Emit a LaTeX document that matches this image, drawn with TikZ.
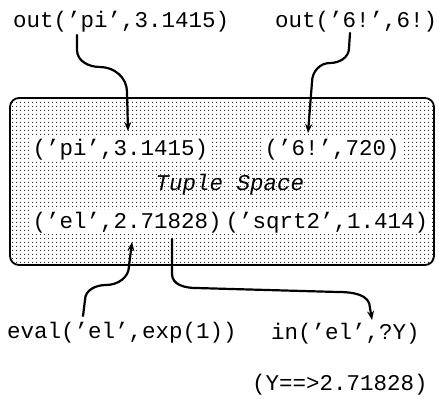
\documentclass[tikz,border=0pt]{standalone}
\usepackage{fontspec}
\newfontfamily\cour{Liberation Mono}
\usetikzlibrary{arrows.meta,patterns.meta}

% fine dot screen used as the fill of the tuple space
\tikzdeclarepattern{
  name=tsdots, type=uncolored,
  bounding box={(0pt,0pt) and (3.5pt,4.1pt)},
  tile size={(3.5pt,4.1pt)},
  code={\fill (1.75pt,2.05pt) circle (0.68pt);}
}

\tikzset{
  code/.style={font=\cour\fontsize{22.5}{26}\selectfont, inner sep=0pt, anchor=base west},
  tuple/.style={code, fill=white, inner sep=1.5pt},
  space/.style={font=\cour\itshape\fontsize{22.5}{26}\selectfont, inner sep=0pt, anchor=base},
  flow/.style={line width=2.2pt, line cap=round, -{Stealth[length=9pt,width=7pt]}},
  pool/.style={line width=1.8pt, rounded corners=9pt, pattern={tsdots}, pattern color=black}
}

\begin{document}
\begin{tikzpicture}[x=1pt,y=-1pt]
  \useasboundingbox (0,0) rectangle (439,399);

  % the shared tuple space
  \draw[pool] (10,98) rectangle (434,265);

  % operations issued by the processes
  \node[code] (outpi) at (13,27) {out(’pi’,3.1415)};
  \node[code] (out6) at (275,27) {out(’6!’,6!)};
  \node[code] (eval) at (7,338) {eval(’el’,exp(1))};
  \node[code] (in) at (271,339) {in(’el’,?Y)};
  \node[code] (res) at (252,390) {(Y==>2.71828)};

  % tuples held in the space
  \node[tuple] (tpi) at (31,155) {(’pi’,3.1415)};
  \node[tuple] (t6) at (263,155) {(’6!’,720)};
  \node[space] (ts) at (230,190) {Tuple Space};
  \node[tuple] (tel) at (31,228) {(’el’,2.71828)};
  \node[tuple] (tsq) at (224,228) {(’sqrt2’,1.414)};

  % connector end points
  \coordinate (a1s) at (77,35);
  \coordinate (a1e) at (128,131);
  \coordinate (a2s) at (350,33);
  \coordinate (a2e) at (308,133);
  \coordinate (a3s) at (83,316);
  \coordinate (a3e) at (132,242);
  \coordinate (a4s) at (172,239);
  \coordinate (a4e) at (372,320);

  % out('pi',...) drops its tuple into the space
  \draw[flow] (a1s) -- (77,50) to[out=-90,in=180] (100,67)
              to[out=0,in=90] (127,92) -- (a1e);
  % out('6!',...) drops its tuple into the space
  \draw[flow] (a2s) -- (349,48) to[out=-90,in=0] (330,63)
              to[out=180,in=90] (312,82) -- (a2e);
  % eval(...) produces ('el',2.71828)
  \draw[flow] (a3s) -- (85,300) to[out=90,in=180] (106,285)
              to[out=0,in=-90] (129,266) -- (a3e);
  % in(...) withdraws ('el',2.71828)
  \draw[flow] (a4s) -- (172,274) to[out=-90,in=180] (196,288)
              -- (338,292) to[out=0,in=90] (370,308) -- (a4e);
\end{tikzpicture}
\end{document}
